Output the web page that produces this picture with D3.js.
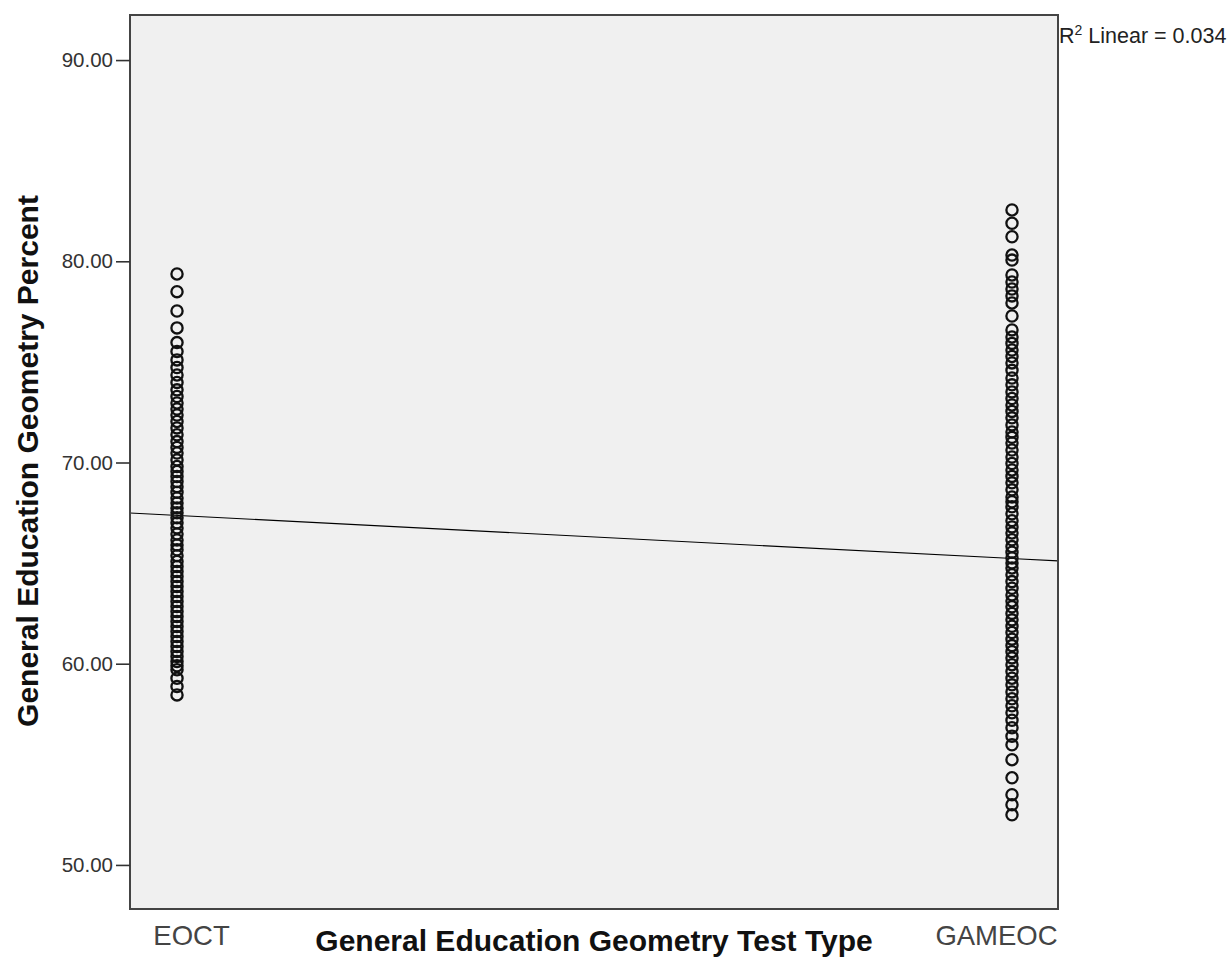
<!DOCTYPE html>
<html>
<head>
<meta charset="utf-8">
<script src="https://cdn.jsdelivr.net/npm/d3@7"></script>
<style>
  html, body { margin: 0; padding: 0; background: #ffffff; }
  svg { display: block; font-family: "Liberation Sans", Arial, sans-serif; }
</style>
</head>
<body>
<svg id="chart" width="1230" height="958"></svg>
<script>
// ---- data ----
const categories = ["EOCT", "GAMEOC"];
const categoryCodes = [1, 2];
const eoctValues = [79.37, 78.49, 77.53, 76.69, 75.96, 75.52, 75.10, 74.72, 74.35, 73.98, 73.61, 73.28, 72.96, 72.66, 72.36, 72.04, 71.72, 71.38, 71.04, 70.75, 70.47, 70.13, 69.80, 69.55, 69.30, 69.05, 68.80, 68.52, 68.24, 67.99, 67.74, 67.50, 67.25, 67.00, 66.75, 66.45, 66.15, 65.90, 65.66, 65.37, 65.08, 64.83, 64.58, 64.33, 64.08, 63.84, 63.59, 63.34, 63.09, 62.84, 62.59, 62.35, 62.10, 61.85, 61.60, 61.35, 61.10, 60.86, 60.61, 60.36, 60.11, 59.90, 59.70, 59.28, 58.87, 58.45];
const gameocValues = [82.55, 81.89, 81.22, 80.31, 80.06, 79.32, 78.97, 78.62, 78.28, 77.93, 77.28, 76.59, 76.24, 75.92, 75.59, 75.27, 74.95, 74.58, 74.20, 73.86, 73.51, 73.18, 72.86, 72.54, 72.22, 71.87, 71.52, 71.25, 70.97, 70.62, 70.27, 69.95, 69.63, 69.31, 68.99, 68.64, 68.29, 68.05, 67.80, 67.45, 67.11, 66.80, 66.50, 66.16, 65.82, 65.54, 65.26, 65.01, 64.76, 64.42, 64.08, 63.75, 63.42, 63.12, 62.83, 62.50, 62.18, 61.86, 61.55, 61.22, 60.90, 60.60, 60.29, 59.95, 59.61, 59.28, 58.95, 58.60, 58.26, 57.91, 57.56, 57.19, 56.82, 56.40, 55.97, 55.23, 54.33, 53.49, 52.99, 52.49];
const fitValues = [67.37, 65.23];          // fitted line at code 1 and code 2
const yTicks = [50, 60, 70, 80, 90];
const r2Text = "0.034";
const xTitle = "General Education Geometry Test Type";
const yTitle = "General Education Geometry Percent";

// ---- layout ----
const svg = d3.select("#chart");
const plot = { left: 130, top: 15, right: 1058, bottom: 909 };

const x = d3.scaleLinear().domain([0.9437, 2.0551]).range([plot.left, plot.right]);
const y = d3.scaleLinear().domain([47.81, 92.24]).range([plot.bottom, plot.top]);

// background
svg.append("rect")
  .attr("x", plot.left).attr("y", plot.top)
  .attr("width", plot.right - plot.left).attr("height", plot.bottom - plot.top)
  .attr("fill", "#f0f0f0");

// regression line
const slope = (fitValues[1] - fitValues[0]) / (categoryCodes[1] - categoryCodes[0]);
const fit = v => fitValues[0] + slope * (v - categoryCodes[0]);
const xd = x.domain();
svg.append("line")
  .attr("x1", x(xd[0])).attr("y1", y(fit(xd[0])))
  .attr("x2", x(xd[1])).attr("y2", y(fit(xd[1])))
  .attr("stroke", "#000").attr("stroke-width", 1.1);

// points
const points = [];
eoctValues.forEach(v => points.push({ c: categoryCodes[0], v }));
gameocValues.forEach(v => points.push({ c: categoryCodes[1], v }));
svg.append("g").selectAll("circle").data(points).join("circle")
  .attr("cx", d => x(d.c)).attr("cy", d => y(d.v))
  .attr("r", 5.6)
  .attr("fill", "none").attr("stroke", "#111").attr("stroke-width", 2.3);

// frame
svg.append("rect")
  .attr("x", plot.left).attr("y", plot.top)
  .attr("width", plot.right - plot.left).attr("height", plot.bottom - plot.top)
  .attr("fill", "none").attr("stroke", "#444").attr("stroke-width", 2);

// y axis
const yAxis = svg.append("g")
  .attr("transform", `translate(${plot.left},0)`)
  .call(d3.axisLeft(y).tickValues(yTicks).tickFormat(d3.format(".2f")).tickSize(14).tickPadding(3));
yAxis.select(".domain").remove();
yAxis.selectAll(".tick line").attr("stroke", "#333").attr("stroke-width", 1.6);
yAxis.selectAll(".tick text")
  .attr("fill", "#333").style("font-size", "20.5px")
  .style("font-family", "'Liberation Sans', Arial, sans-serif");

// x axis (category labels)
const xAxis = svg.append("g")
  .attr("transform", `translate(0,${plot.bottom})`)
  .call(d3.axisBottom(x).tickValues(categoryCodes).tickFormat((d, i) => categories[i]).tickSize(0).tickPadding(16));
xAxis.select(".domain").remove();
xAxis.selectAll(".tick text")
  .attr("fill", "#444").style("font-size", "27.5px")
  .style("font-family", "'Liberation Sans', Arial, sans-serif")
  .attr("dx", (d, i) => i === 0 ? 14 : -16);

// axis titles
svg.append("text")
  .attr("x", 594).attr("y", 951)
  .attr("text-anchor", "middle")
  .style("font-size", "30px").style("font-weight", "bold").attr("fill", "#111")
  .text(xTitle);

svg.append("text")
  .attr("transform", `translate(38,461) rotate(-90)`)
  .attr("text-anchor", "middle")
  .style("font-size", "30px").style("font-weight", "bold").attr("fill", "#111")
  .text(yTitle);

// R² annotation
const r2 = svg.append("text")
  .attr("x", 1059).attr("y", 43)
  .style("font-size", "21.5px").attr("fill", "#222");
r2.append("tspan").text("R");
r2.append("tspan").attr("dy", -8).style("font-size", "14px").text("2");
r2.append("tspan").attr("dy", 8).text(" Linear = " + r2Text);
</script>
</body>
</html>
